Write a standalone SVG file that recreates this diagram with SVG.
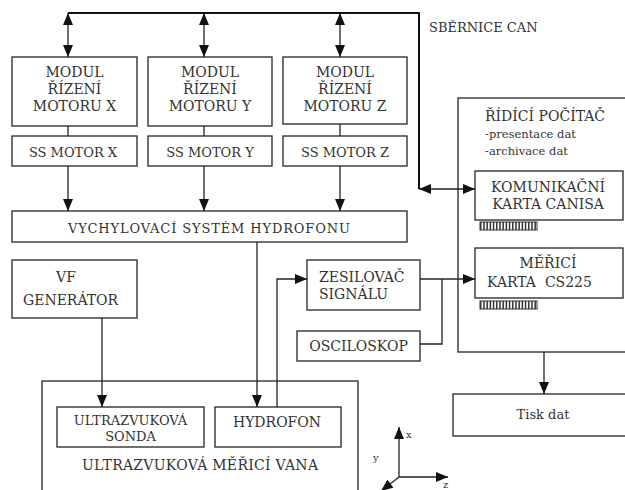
<svg xmlns="http://www.w3.org/2000/svg" width="625" height="490" viewBox="0 0 625 490">
<style>
.box{fill:#fff;stroke:#333;stroke-width:1.4}
.ln{fill:none;stroke:#222;stroke-width:1.3}
.bus{fill:none;stroke:#111;stroke-width:2}
text{font-family:"DejaVu Serif","Liberation Serif",serif;font-size:14px;fill:#333}
.c{text-anchor:middle}
.m{font-size:13px}
.sm{font-size:11.5px}
.ax{font-size:10px}
</style>
<defs>
<marker id="ah" markerUnits="userSpaceOnUse" markerWidth="12" markerHeight="10" viewBox="0 0 12 10" refX="12" refY="5" orient="auto-start-reverse">
<path d="M0,0 L12,5 L0,10 z" fill="#111"/>
</marker>
</defs>
<rect width="625" height="490" fill="#fff"/>

<g id="vana"><rect class="box" x="42" y="381" width="316" height="120"/>
<text x="82" y="470" textLength="236" lengthAdjust="spacing">ULTRAZVUKOVÁ MĚŘICÍ VANA</text></g>

<g id="pocitac"><rect class="box" x="458" y="98" width="180" height="254"/>
<text x="485" y="121">ŘÍDÍCÍ POČÍTAČ</text>
<text class="sm" x="485" y="138">-presentace dat</text>
<text class="sm" x="485" y="155">-archivace dat</text></g>

<g id="modul-x"><rect class="box" x="12" y="57" width="125" height="69"/>
<text class="c" x="74.5" y="77">MODUL</text><text class="c" x="74.5" y="94">ŘÍZENÍ</text><text class="c" x="74.5" y="111">MOTORU X</text></g>
<g id="modul-y"><rect class="box" x="148" y="57" width="124" height="69"/>
<text class="c" x="210" y="77">MODUL</text><text class="c" x="210" y="94">ŘÍZENÍ</text><text class="c" x="210" y="111">MOTORU Y</text></g>
<g id="modul-z"><rect class="box" x="283" y="57" width="124" height="67"/>
<text class="c" x="345" y="77">MODUL</text><text class="c" x="345" y="94">ŘÍZENÍ</text><text class="c" x="345" y="111">MOTORU Z</text></g>

<g id="ss-x"><rect class="box" x="12" y="136" width="125" height="30"/><text class="c m" x="73" y="157">SS MOTOR X</text></g>
<g id="ss-y"><rect class="box" x="148" y="136" width="124" height="30"/><text class="c m" x="210" y="157">SS MOTOR Y</text></g>
<g id="ss-z"><rect class="box" x="283" y="136" width="124" height="30"/><text class="c m" x="345" y="157">SS MOTOR Z</text></g>

<g id="sbernice"><text class="m" x="429" y="32">SBĚRNICE CAN</text></g>

<g id="vychylovaci"><rect class="box" x="12" y="211" width="395" height="31"/>
<text class="m" x="68" y="233" textLength="282" lengthAdjust="spacing">VYCHYLOVACÍ SYSTÉM HYDROFONU</text></g>

<g id="komunikacni"><rect class="box" x="475" y="171" width="148" height="49"/>
<text class="c" x="548" y="192">KOMUNIKAČNÍ</text><text class="c" x="548" y="209">KARTA CANISA</text>
<rect x="480" y="222" width="57" height="8" fill="none" stroke="#333" stroke-width="1"/>
<line x1="480" y1="226" x2="537" y2="226" stroke="#333" stroke-width="8" stroke-dasharray="1.5 1.7"/></g>

<g id="merici"><rect class="box" x="475" y="248" width="148" height="50"/>
<text class="c" x="548" y="268">MĚŘICÍ</text><text x="487" y="287" xml:space="preserve">KARTA  CS225</text>
<rect x="480" y="301" width="57" height="8" fill="none" stroke="#333" stroke-width="1"/>
<line x1="480" y1="305" x2="537" y2="305" stroke="#333" stroke-width="8" stroke-dasharray="1.5 1.7"/></g>

<g id="vf"><rect class="box" x="12" y="260" width="125" height="58"/>
<text class="c" x="66" y="282">VF</text><text x="23" y="305">GENERÁTOR</text></g>

<g id="zesilovac"><rect class="box" x="307" y="260" width="113" height="50"/>
<text x="319" y="282">ZESILOVAČ</text><text x="319" y="299">SIGNÁLU</text></g>

<g id="osciloskop"><rect class="box" x="297" y="331" width="123" height="30"/>
<text class="c" x="358.5" y="351">OSCILOSKOP</text></g>

<g id="tisk"><rect class="box" x="453" y="394" width="180" height="42"/>
<text class="c m" x="543" y="419">Tisk dat</text></g>

<g id="sonda"><rect class="box" x="57" y="407" width="147" height="40"/>
<text class="c m" x="130.5" y="425">ULTRAZVUKOVÁ</text><text class="c m" x="130.5" y="441">SONDA</text></g>

<g id="hydrofon"><rect class="box" x="215" y="407" width="126" height="40"/>
<text class="c" x="277" y="427">HYDROFON</text></g>

<g id="connectors">
<polyline class="bus" points="68,13 419,13 419,189"/>
<line class="ln" x1="68" y1="13" x2="68" y2="57" marker-start="url(#ah)" marker-end="url(#ah)"/>
<line class="ln" x1="204" y1="13" x2="204" y2="57" marker-start="url(#ah)" marker-end="url(#ah)"/>
<line class="ln" x1="340" y1="13" x2="340" y2="57" marker-start="url(#ah)" marker-end="url(#ah)"/>
<line class="ln" x1="419" y1="189" x2="475" y2="189" marker-start="url(#ah)" marker-end="url(#ah)"/>
<line class="ln" x1="68" y1="126" x2="68" y2="136"/>
<line class="ln" x1="204" y1="126" x2="204" y2="136"/>
<line class="ln" x1="340" y1="124" x2="340" y2="136"/>
<line class="ln" x1="68" y1="166" x2="68" y2="211" marker-end="url(#ah)"/>
<line class="ln" x1="204" y1="166" x2="204" y2="211" marker-end="url(#ah)"/>
<line class="ln" x1="340" y1="166" x2="340" y2="211" marker-end="url(#ah)"/>
<line class="ln" x1="257" y1="242" x2="257" y2="407" marker-end="url(#ah)"/>
<line class="ln" x1="102" y1="318" x2="102" y2="407" marker-end="url(#ah)"/>
<polyline class="ln" points="277,407 277,279 307,279" marker-end="url(#ah)"/>
<line class="ln" x1="420" y1="279" x2="475" y2="279" marker-end="url(#ah)"/>
<polyline class="ln" points="420,344 442,344 442,279"/>
<line class="ln" x1="544" y1="352" x2="544" y2="394" marker-end="url(#ah)"/>
</g>

<g id="axes">
<line class="ln" x1="399" y1="477" x2="399" y2="427" marker-end="url(#ah)"/>
<line class="ln" x1="399" y1="477" x2="448" y2="477" marker-end="url(#ah)"/>
<line class="ln" x1="399" y1="477" x2="381" y2="491" marker-end="url(#ah)"/>
<text class="ax" x="406" y="438">x</text>
<text class="ax" x="373" y="461">y</text>
<text class="ax" x="443" y="488">z</text>
</g>
</svg>
